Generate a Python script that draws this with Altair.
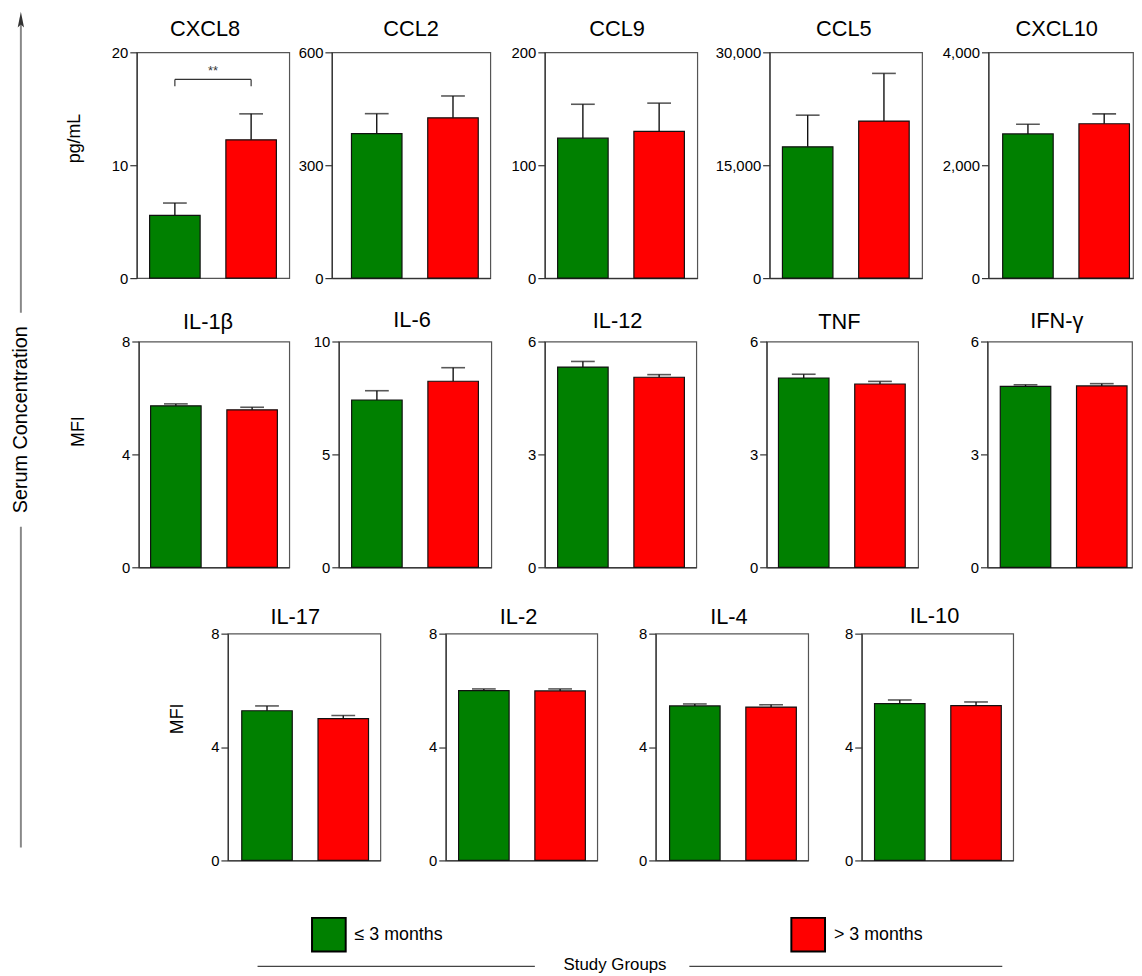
import altair as alt
import pandas as pd

# ---------------- data ----------------
groups = ["≤ 3 months", "> 3 months"]
group_colors = ["#008000", "#FF0000"]

cytokines = ["CXCL8", "CCL2", "CCL9", "CCL5", "CXCL10",
             "IL-1β", "IL-6", "IL-12", "TNF", "IFN-γ",
             "IL-17", "IL-2", "IL-4", "IL-10"]
mean_le3 = [5.55, 384, 124, 17450, 2555, 5.72, 7.41, 5.32, 5.03, 4.81, 5.28, 5.99, 5.45, 5.53]
mean_gt3 = [12.25, 426, 130, 20870, 2735, 5.58, 8.24, 5.05, 4.87, 4.82, 5.00, 5.98, 5.41, 5.46]
errtop_le3 = [6.65, 437, 154, 21650, 2725, 5.79, 7.82, 5.47, 5.13, 4.85, 5.45, 6.05, 5.52, 5.66]
errtop_gt3 = [14.55, 484, 155, 27200, 2910, 5.67, 8.84, 5.12, 4.94, 4.88, 5.11, 6.05, 5.49, 5.59]
axis_max = [20, 600, 200, 30000, 4000, 8, 10, 6, 6, 6, 8, 8, 8, 8]
units = ["pg/mL", "MFI", "MFI"]
y_super_title = "Serum Concentration"
x_super_title = "Study Groups"

sig_panel = "CXCL8"
sig_label = "**"
sig_bracket_top = 17.6
sig_bracket_bottom = 17.0
sig_label_y = 18.3

rows = []
for i, c in enumerate(cytokines):
    rows.append({"cytokine": c, "group": groups[0], "mean": mean_le3[i], "top": errtop_le3[i]})
    rows.append({"cytokine": c, "group": groups[1], "mean": mean_gt3[i], "top": errtop_gt3[i]})
df = pd.DataFrame(rows)

FONT = "Liberation Sans"
INK = "#111111"

color_enc = alt.Color(
    "group:N",
    scale=alt.Scale(domain=groups, range=group_colors),
    legend=alt.Legend(
        orient="none", legendX=303, legendY=873, direction="horizontal", title=None,
        symbolType="square", symbolSize=1156, symbolStrokeColor="black",
        symbolStrokeWidth=2, symbolOpacity=1, labelFontSize=18, labelFont=FONT,
        labelColor="black", labelOffset=8, columnPadding=348, padding=0,
    ),
)


def panel(i, width, align, height, title_offset, title_dx):
    name = cytokines[i]
    d = df[df.cytokine == name]
    po = (width - 128) / (2 * 77)
    xsc = alt.Scale(domain=groups, paddingInner=26 / 77, paddingOuter=po, align=align)
    x = alt.X("group:N", scale=xsc, sort=groups,
              axis=alt.Axis(labels=False, ticks=False, title=None, domain=True))
    ymax = axis_max[i]
    ysc = alt.Scale(domain=[0, ymax], nice=False, zero=True)
    yax = alt.Axis(values=[0, ymax / 2, ymax], format=",.0f", title=None)
    base = alt.Chart(d)
    bars = base.mark_bar(stroke=INK, strokeWidth=1.2).encode(
        x=x, y=alt.Y("mean:Q", scale=ysc, axis=yax), color=color_enc)
    stem = base.mark_rule(color=INK, strokeWidth=1.4).encode(
        x=x, y=alt.Y("mean:Q", scale=ysc, axis=yax), y2="top:Q")
    cap = base.mark_tick(color=INK, thickness=1.6, size=24).encode(
        x=x, y=alt.Y("top:Q", scale=ysc, axis=yax))
    layers = [bars, stem, cap]
    if name == sig_panel:
        sd = pd.DataFrame({"g1": [groups[0]], "g2": [groups[1]],
                           "yt": [sig_bracket_top], "yb": [sig_bracket_bottom],
                           "ly": [sig_label_y], "lab": [sig_label]})
        sd2 = pd.DataFrame({"group": groups, "yt": [sig_bracket_top] * 2,
                            "yb": [sig_bracket_bottom] * 2})
        hline = alt.Chart(sd).mark_rule(color="#333", strokeWidth=1.2).encode(
            x=alt.X("g1:N", scale=xsc, sort=groups, axis=None),
            x2="g2:N", y=alt.Y("yt:Q", scale=ysc, axis=yax))
        vlines = alt.Chart(sd2).mark_rule(color="#333", strokeWidth=1.2).encode(
            x=alt.X("group:N", scale=xsc, sort=groups, axis=None),
            y=alt.Y("yt:Q", scale=ysc, axis=yax), y2="yb:Q")
        stars = alt.Chart(sd).mark_text(fontSize=13, font=FONT, color="#333",
                                        baseline="middle", align="center").encode(
            x=alt.value(width / 2), y=alt.Y("ly:Q", scale=ysc, axis=yax), text="lab:N")
        layers += [hline, vlines, stars]
    return alt.layer(*layers).properties(
        width=width, height=height,
        title=alt.TitleParams(text=name, fontSize=22, font=FONT, fontWeight="normal",
                              color="black", anchor="middle", frame="group",
                              baseline="alphabetic", offset=title_offset, dx=title_dx),
    )


clear_view = alt.ViewBackground(stroke="transparent")
anno = pd.DataFrame({"label": [y_super_title]})


def text_layer(txt, x, y, size, angle=0):
    kw = dict(fontSize=size, font=FONT, color="black", align="center", baseline="middle")
    if angle:
        kw["angle"] = angle
    return alt.Chart(anno).mark_text(**kw).encode(
        x=alt.value(x), y=alt.value(y), text=alt.value(txt))


def invisible(y_top=0):
    return alt.Chart(anno).mark_rule(opacity=0).encode(
        x=alt.value(1), y=alt.value(y_top), y2=alt.value(1))


def gap(w, h=228, y_top=0):
    return invisible(y_top).properties(width=w, height=h, view=clear_view)


# left decoration: arrow, lines, super title and unit labels
decor = alt.layer(
    invisible(-44),
    alt.Chart(anno).mark_rule(color="#888", strokeWidth=2).encode(
        x=alt.value(10), y=alt.value(-35), y2=alt.value(263)),
    alt.Chart(anno).mark_rule(color="#888", strokeWidth=2).encode(
        x=alt.value(10), y=alt.value(479), y2=alt.value(803)),
    alt.Chart(anno).mark_point(shape="M0,-1L0.4,1L0,0.6L-0.4,1Z", filled=True,
                               color="#333", size=256, opacity=1).encode(
        x=alt.value(10), y=alt.value(-33)),
    text_layer(y_super_title, 10, 371, 20, 270),
    text_layer(units[0], 64.5, 87, 18, 270),
    text_layer(units[1], 68.5, 383, 18, 270),
).properties(width=86.5, height=800, view=clear_view)

lead3 = alt.layer(
    invisible(-36),
    text_layer(units[2], 82, 86, 18, 270),
).properties(width=132, height=229, view=clear_view)

bottom = alt.layer(
    alt.Chart(anno).mark_rule(color="#444", strokeWidth=1.2).encode(
        x=alt.value(162), x2=alt.value(442), y=alt.value(76)),
    alt.Chart(anno).mark_rule(color="#444", strokeWidth=1.2).encode(
        x=alt.value(598), x2=alt.value(914), y=alt.value(76)),
    text_layer(x_super_title, 523, 75, 17),
).properties(width=920, height=86, view=clear_view)

# panel(index, width, band align, height, title offset, title dx)
row1 = alt.hconcat(
    gap(40),
    panel(0, 154, 0.5, 228, -13, -8), gap(43),
    panel(1, 160, 0.62, 228, -13, 0), gap(55),
    panel(2, 154, 0.5, 228, -13, -4), gap(73),
    panel(3, 154, 0.5, 228, -13, -2), gap(67),
    panel(4, 146, 0.8, 228, -13, -4),
    spacing=0, bounds="flush")
row2 = alt.hconcat(
    gap(42),
    panel(5, 152, 0.5, 228, -16, -6), gap(50),
    panel(6, 154, 0.5, 228, -14, -3), gap(54),
    panel(7, 153, 0.52, 228, -15, -3), gap(71),
    panel(8, 153, 0.48, 228, -16, -3), gap(70),
    panel(9, 146, 0.72, 228, -15, -3),
    spacing=0, bounds="flush")
row3 = alt.hconcat(
    lead3,
    panel(10, 154, 0.54, 229, -19, -9), gap(66, 229),
    panel(11, 153, 0.52, 229, -19, -3), gap(59, 229),
    panel(12, 154, 0.54, 229, -19, -3), gap(54, 229),
    panel(13, 153, 0.52, 229, -18, -3),
    spacing=0, bounds="flush")

main = alt.vconcat(row1, row2, row3, bottom, spacing=21)

chart = alt.hconcat(decor, main, spacing=0, bounds="flush").properties(
    padding={"left": 2, "top": -5, "right": 0, "bottom": 0},
    background="white",
).configure_view(
    stroke="#555", strokeWidth=1.2
).configure_axis(
    labelFont=FONT, labelFontSize=15, labelColor="black", domainColor="#333",
    domainWidth=1.2, tickColor="#333", tickWidth=1.2, tickSize=7, labelPadding=2,
    grid=False,
)

chart.save("out.html", embed_options={"renderer": "svg", "actions": False})
